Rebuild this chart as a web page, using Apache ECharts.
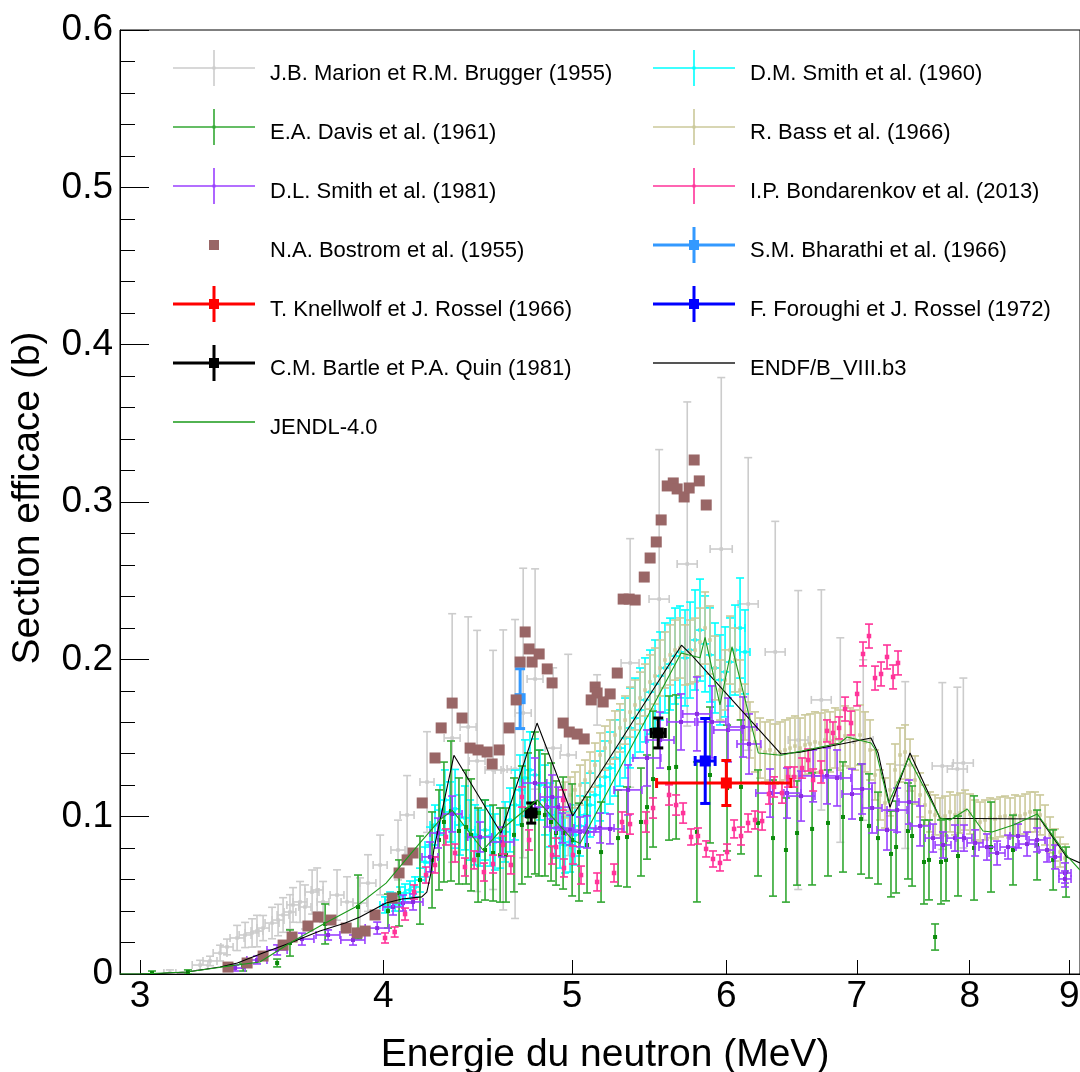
<!DOCTYPE html>
<html><head><meta charset="utf-8">
<script src="https://cdn.jsdelivr.net/npm/echarts@6/dist/echarts.min.js"></script>
<style>html,body{margin:0;padding:0;background:#fff}#c{width:1080px;height:1072px}</style>
</head><body><div id="c"></div>
<script>
// ---- axis ticks ----
const xTicks = [3, 4, 5, 6, 7, 8, 9];
// ---- data: [E (MeV), sigma (b), dE, dsigma] ----
const marion = [
[3.108,0.0006,0.022,0.002],[3.221,0.0057,0.030,0.003],[3.259,0.0083,0.027,0.003],[3.298,0.0133,0.027,0.005],
[3.325,0.0172,0.024,0.005],[3.365,0.0229,0.028,0.008],[3.397,0.0248,0.024,0.008],[3.425,0.0261,0.028,0.009],
[3.445,0.0273,0.024,0.010],[3.470,0.0292,0.025,0.008],[3.507,0.0324,0.029,0.010],[3.532,0.0343,0.025,0.010],
[3.553,0.0375,0.025,0.011],[3.582,0.0394,0.025,0.011],[3.595,0.0439,0.026,0.011],[3.625,0.0458,0.030,0.013],
[3.646,0.0426,0.026,0.014],[3.677,0.0521,0.030,0.014],[3.699,0.0534,0.026,0.014],[3.725,0.0458,0.026,0.013],
[3.787,0.0502,0.031,0.016],[3.832,0.0458,0.027,0.016],[3.891,0.0451,0.032,0.016],[3.928,0.0578,0.037,0.018],
[3.985,0.0693,0.033,0.019],[4.070,0.0788,0.034,0.019],[4.114,0.1011,0.034,0.025],[4.212,0.1220,0.035,0.032],
[4.339,0.150,0.041,0.079],[4.422,0.157,0.042,0.070],[4.469,0.1354,0.042,0.083],[4.554,0.1297,0.043,0.076],
[4.609,0.1297,0.044,0.089],[4.674,0.1303,0.044,0.095],[4.719,0.1659,0.045,0.092],[4.786,0.1875,0.045,0.070],
[4.889,0.1436,0.046,0.051],[4.977,0.1392,0.047,0.064],[5.150,0.1742,0.049,0.016],[5.355,0.1977,0.057,0.079],
[5.542,0.2383,0.066,0.095],[5.729,0.2606,0.068,0.103],[5.964,0.2701,0.078,0.109],[6.157,0.2352,0.073,0.093],
[6.357,0.2047,0.075,0.083],[6.532,0.1487,0.077,0.095],[6.713,0.1742,0.079,0.070],[6.865,0.1487,0.081,0.065],
[7.054,0.1487,0.083,0.051],[7.413,0.1328,0.088,0.053],[7.745,0.1322,0.092,0.053],[7.884,0.1303,0.093,0.052],
[7.940,0.1341,0.094,0.054]
];
const dmSmith = [
[4.008,0.0439,0.024,0.0051],[4.032,0.0470,0.024,0.0051],[4.056,0.0451,0.024,0.0051],[4.080,0.0496,0.024,0.0057],
[4.104,0.0515,0.024,0.0057],[4.128,0.0534,0.024,0.0057],[4.153,0.0553,0.025,0.0064],[4.177,0.0597,0.025,0.0076],
[4.202,0.0712,0.025,0.0095],[4.227,0.0820,0.025,0.0114],[4.252,0.0947,0.025,0.0127],[4.277,0.1042,0.025,0.0159],
[4.302,0.1106,0.025,0.0191],[4.328,0.1030,0.026,0.0191],[4.354,0.1050,0.026,0.0250],[4.379,0.0947,0.026,0.0191],
[4.405,0.0992,0.026,0.0203],[4.432,0.0915,0.026,0.0191],[4.458,0.0884,0.026,0.0191],[4.484,0.0864,0.027,0.0178],
[4.511,0.0915,0.027,0.0191],[4.538,0.0877,0.027,0.0191],[4.564,0.0839,0.027,0.0178],[4.592,0.0864,0.027,0.0191],
[4.619,0.0903,0.027,0.0191],[4.646,0.0979,0.027,0.0203],[4.674,0.1074,0.028,0.0222],[4.701,0.1170,0.028,0.0222],
[4.729,0.1246,0.028,0.0242],[4.757,0.1297,0.028,0.0242],[4.785,0.1265,0.028,0.0229],[4.814,0.1201,0.028,0.0222],
[4.842,0.1106,0.029,0.0222],[4.871,0.1011,0.029,0.0203],[4.900,0.0928,0.029,0.0191],[4.929,0.0864,0.029,0.0191],
[4.958,0.0820,0.029,0.0178],[4.988,0.0839,0.029,0.0191],[5.017,0.0884,0.030,0.0191],[5.047,0.0941,0.030,0.0191],
[5.077,0.1011,0.030,0.0203],[5.107,0.1074,0.030,0.0203],[5.137,0.1138,0.030,0.0216],[5.168,0.1195,0.031,0.0222],
[5.198,0.1252,0.031,0.0229],[5.229,0.1309,0.031,0.0229],[5.260,0.1373,0.031,0.0242],[5.291,0.1436,0.031,0.0242],
[5.323,0.1500,0.031,0.0254],[5.354,0.1564,0.032,0.0254],[5.386,0.1627,0.032,0.0254],[5.418,0.1678,0.032,0.0267],
[5.450,0.1742,0.032,0.0267],[5.482,0.1792,0.032,0.0267],[5.515,0.1843,0.033,0.0280],[5.548,0.1894,0.033,0.0280],
[5.580,0.1945,0.033,0.0286],[5.614,0.1970,0.033,0.0292],[5.647,0.2021,0.033,0.0305],[5.680,0.2047,0.034,0.0292],
[5.714,0.2009,0.034,0.0305],[5.748,0.2059,0.034,0.0305],[5.782,0.2123,0.034,0.0318],[5.816,0.2186,0.034,0.0324],
[5.851,0.2098,0.035,0.0305],[5.885,0.2028,0.035,0.0299],[5.920,0.1945,0.035,0.0286],[5.955,0.1869,0.035,0.0286],
[5.991,0.1920,0.035,0.0286],[6.026,0.1983,0.036,0.0280],[6.062,0.2059,0.036,0.0286],[6.098,0.2199,0.036,0.0318],
[6.134,0.2047,0.036,0.0267]
];
const bass = [
[4.958,0.1106,0,0.0114],[4.988,0.1138,0,0.0114],[5.017,0.1170,0,0.0114],[5.047,0.1201,0,0.0127],
[5.077,0.1233,0,0.0127],[5.107,0.1284,0,0.0127],[5.137,0.1328,0,0.0140],[5.168,0.1392,0,0.0140],
[5.198,0.1436,0,0.0140],[5.229,0.1475,0,0.0140],[5.260,0.1519,0,0.0153],[5.291,0.1564,0,0.0153],
[5.323,0.1614,0,0.0153],[5.354,0.1665,0,0.0159],[5.386,0.1710,0,0.0159],[5.418,0.1754,0,0.0165],
[5.450,0.1805,0,0.0165],[5.482,0.1856,0,0.0172],[5.515,0.1894,0,0.0178],[5.548,0.1945,0,0.0178],
[5.580,0.1996,0,0.0178],[5.614,0.2028,0,0.0191],[5.647,0.2059,0,0.0191],[5.680,0.2072,0,0.0191],
[5.714,0.2028,0,0.0191],[5.748,0.2047,0,0.0203],[5.782,0.2059,0,0.0203],[5.816,0.2110,0,0.0216],
[5.851,0.2199,0,0.0229],[5.885,0.2123,0,0.0216],[5.920,0.1945,0,0.0203],[5.955,0.1805,0,0.0191],
[5.991,0.1869,0,0.0191],[6.026,0.2059,0,0.0216],[6.062,0.1996,0,0.0203],[6.098,0.1805,0,0.0191],
[6.134,0.1665,0,0.0178],[6.170,0.1551,0,0.0178],[6.207,0.1475,0,0.0191],[6.244,0.1436,0,0.0191],
[6.281,0.1411,0,0.0191],[6.318,0.1424,0,0.0191],[6.355,0.1398,0,0.0191],[6.393,0.1411,0,0.0191],
[6.431,0.1424,0,0.0191],[6.469,0.1436,0,0.0191],[6.507,0.1449,0,0.0191],[6.546,0.1436,0,0.0191],
[6.585,0.1456,0,0.0191],[6.624,0.1462,0,0.0191],[6.663,0.1475,0,0.0191],[6.703,0.1468,0,0.0191],
[6.742,0.1487,0,0.0191],[6.782,0.1475,0,0.0191],[6.823,0.1500,0,0.0191],[6.863,0.1487,0,0.0191],
[6.904,0.1513,0,0.0191],[6.945,0.1500,0,0.0191],[6.986,0.1487,0,0.0191],[7.027,0.1519,0,0.0191],
[7.069,0.1475,0,0.0191],[7.111,0.1424,0,0.0191],[7.153,0.1265,0,0.0159],[7.195,0.1138,0,0.0159],
[7.238,0.1087,0,0.0159],[7.281,0.1170,0,0.0165],[7.324,0.1297,0,0.0165],[7.367,0.1392,0,0.0172],
[7.411,0.1411,0,0.0172],[7.455,0.1328,0,0.0165],[7.499,0.1233,0,0.0153],[7.544,0.1138,0,0.0140],
[7.588,0.1074,0,0.0127],[7.633,0.1030,0,0.0127],[7.679,0.1011,0,0.0127],[7.724,0.0992,0,0.0127],
[7.770,0.1004,0,0.0127],[7.816,0.1030,0,0.0127],[7.862,0.1011,0,0.0127],[7.909,0.1023,0,0.0127],
[7.956,0.1042,0,0.0127],[8.003,0.1017,0,0.0127],[8.051,0.0979,0,0.0127],[8.098,0.0966,0,0.0127],
[8.146,0.0979,0,0.0127],[8.195,0.0992,0,0.0127],[8.243,0.0985,0,0.0127],[8.292,0.0998,0,0.0127],
[8.341,0.1004,0,0.0127],[8.391,0.0992,0,0.0127],[8.440,0.1011,0,0.0127],[8.490,0.1004,0,0.0127],
[8.541,0.1017,0,0.0127],[8.591,0.1030,0,0.0127],[8.642,0.1030,0,0.0127],[8.694,0.1011,0,0.0127],
[8.745,0.0947,0,0.0127],[8.797,0.0884,0,0.0114],[8.849,0.0820,0,0.0102],[8.902,0.0775,0,0.0095],
[8.954,0.0737,0,0.0089]
];
const davis = [
[3.043,0.0006,0,0.0013],[3.175,0.0013,0,0.0013],[3.389,0.0044,0,0.0025],[3.528,0.0070,0,0.0025],
[3.582,0.0197,0,0.0083],[3.734,0.0318,0,0.0127],[3.882,0.0426,0,0.0203],[4.022,0.0400,0,0.0108],
[4.075,0.0515,0,0.0210],[4.177,0.0597,0,0.0280],[4.237,0.0725,0,0.0305],[4.272,0.0852,0,0.0318],
[4.297,0.0966,0,0.0381],[4.333,0.1036,0,0.0445],[4.374,0.0909,0,0.0337],[4.411,0.0934,0,0.0362],
[4.437,0.0884,0,0.0356],[4.474,0.0756,0,0.0299],[4.511,0.0788,0,0.0318],[4.554,0.0769,0,0.0305],
[4.592,0.0756,0,0.0299],[4.624,0.0756,0,0.0299],[4.668,0.0884,0,0.0362],[4.712,0.0947,0,0.0375],
[4.746,0.1011,0,0.0394],[4.785,0.1087,0,0.0451],[4.808,0.1023,0,0.0400],[4.842,0.1011,0,0.0388],
[4.877,0.0966,0,0.0375],[4.906,0.0896,0,0.0331],[4.947,0.0896,0,0.0356],[5.000,0.0852,0,0.0356],
[5.041,0.0775,0,0.0311],[5.089,0.0820,0,0.0305],[5.174,0.0775,0,0.0318],[5.279,0.0864,0,0.0305],
[5.335,0.0871,0,0.0318],[5.424,0.0966,0,0.0343],[5.463,0.1061,0,0.0331],[5.502,0.1239,0,0.0432],
[5.607,0.1309,0,0.0458],[5.654,0.1316,0,0.0458],[5.795,0.0903,0,0.0445],[5.885,0.1265,0,0.0432],
[6.005,0.1182,0,0.0400],[6.105,0.1189,0,0.0426],[6.229,0.0960,0,0.0337],[6.340,0.0864,0,0.0369],
[6.438,0.0788,0,0.0331],[6.523,0.0896,0,0.0331],[6.640,0.0922,0,0.0356],[6.766,0.0960,0,0.0337],
[6.887,0.0998,0,0.0350],[7.036,0.0985,0,0.0350],[7.102,0.0941,0,0.0331],[7.178,0.0864,0,0.0292],
[7.289,0.0763,0,0.0273],[7.333,0.0807,0,0.0292],[7.437,0.0909,0,0.0305],[7.473,0.0877,0,0.0318],
[7.579,0.0712,0,0.0267],[7.624,0.0725,0,0.0254],[7.679,0.0235,0,0.0083],[7.733,0.0712,0,0.0267],
[7.779,0.0725,0,0.0260],[7.890,0.0750,0,0.0254],[8.041,0.0801,0,0.0331],[8.204,0.0807,0,0.0286],
[8.420,0.0788,0,0.0222],[8.663,0.0820,0,0.0222],[8.829,0.0725,0,0.0191],[8.965,0.0648,0,0.0159]
];
const dlSmith = [
[3.357,0.0038,0.040,0.0019],[3.445,0.0089,0.041,0.0025],[3.528,0.0153,0.042,0.0032],[3.633,0.0222,0.052,0.0038],
[3.747,0.0248,0.053,0.0032],[3.859,0.0216,0.055,0.0032],[3.971,0.0292,0.056,0.0038],[4.046,0.0426,0.048,0.0051],
[4.094,0.0451,0.048,0.0051],[4.143,0.0458,0.049,0.0051],[4.227,0.0744,0.040,0.0095],[4.267,0.0896,0.040,0.0095],
[4.339,0.1017,0.051,0.0114],[4.484,0.0871,0.064,0.0095],[4.603,0.0839,0.065,0.0095],[4.785,0.1214,0.068,0.0159],
[4.855,0.1061,0.069,0.0127],[4.883,0.1125,0.069,0.0140],[4.918,0.1061,0.070,0.0127],[4.941,0.0928,0.070,0.0095],
[4.988,0.0915,0.083,0.0095],[5.047,0.0903,0.084,0.0095],[5.089,0.0903,0.084,0.0102],[5.168,0.0928,0.086,0.0095],
[5.229,0.0922,0.087,0.0095],[5.342,0.1170,0.088,0.0159],[5.463,0.1373,0.090,0.0178],[5.548,0.1487,0.092,0.0178],
[5.687,0.1602,0.094,0.0178],[5.795,0.1653,0.096,0.0235],[5.899,0.1602,0.098,0.0229],[6.012,0.1551,0.100,0.0203],
[6.120,0.1570,0.101,0.0191],[6.163,0.1462,0.087,0.0191],[6.318,0.1150,0.105,0.0153],[6.446,0.1150,0.107,0.0159],
[6.554,0.1131,0.109,0.0159],[6.648,0.1259,0.110,0.0165],[6.758,0.1259,0.112,0.0178],[6.839,0.1246,0.113,0.0178],
[6.961,0.1144,0.082,0.0159],[7.044,0.1176,0.083,0.0159],[7.128,0.1055,0.084,0.0159],[7.255,0.0915,0.086,0.0127],
[7.342,0.1042,0.087,0.0140],[7.446,0.1093,0.088,0.0140],[7.544,0.0941,0.089,0.0127],[7.661,0.0864,0.072,0.0089],
[7.752,0.0820,0.073,0.0083],[7.862,0.0864,0.074,0.0083],[7.946,0.0864,0.075,0.0083],[8.051,0.0833,0.076,0.0083],
[8.165,0.0807,0.077,0.0083],[8.263,0.0769,0.078,0.0076],[8.371,0.0807,0.079,0.0076],[8.470,0.0877,0.080,0.0076],
[8.561,0.0826,0.081,0.0076],[8.663,0.0852,0.082,0.0076],[8.766,0.0788,0.083,0.0076],[8.849,0.0744,0.063,0.0076],
[8.954,0.0642,0.064,0.0064],[8.954,0.0604,0.064,0.0051]
];
const bondarenkov = [
[4.008,0.0229,0,0.0032],[4.054,0.0267,0,0.0032],[4.104,0.0381,0,0.0038],[4.148,0.0521,0,0.0045],
[4.207,0.0629,0,0.0051],[4.252,0.0693,0,0.0051],[4.307,0.0871,0,0.0051],[4.354,0.0769,0,0.0057],
[4.405,0.0680,0,0.0057],[4.453,0.0725,0,0.0057],[4.505,0.0648,0,0.0057],[4.554,0.0699,0,0.0057],
[4.608,0.0820,0,0.0057],[4.651,0.0693,0,0.0057],[4.712,0.1125,0,0.0064],[4.752,0.0852,0,0.0064],
[4.883,0.0756,0,0.0057],[4.906,0.0807,0,0.0057],[4.947,0.1106,0,0.0064],[4.952,0.0674,0,0.0057],
[5.005,0.0756,0,0.0057],[5.053,0.0629,0,0.0057],[5.150,0.0585,0,0.0057],[5.254,0.0642,0,0.0057],
[5.304,0.0966,0,0.0064],[5.354,0.0953,0,0.0064],[5.456,0.0966,0,0.0064],[5.502,0.1055,0,0.0064],
[5.607,0.1138,0,0.0064],[5.654,0.1074,0,0.0064],[5.701,0.1023,0,0.0064],[5.755,0.0871,0,0.0051],
[5.802,0.0877,0,0.0051],[5.858,0.0795,0,0.0051],[5.906,0.0731,0,0.0051],[5.955,0.0706,0,0.0051],
[6.005,0.0775,0,0.0051],[6.055,0.0922,0,0.0057],[6.105,0.0877,0,0.0057],[6.156,0.0960,0,0.0057],
[6.207,0.0979,0,0.0057],[6.259,0.0972,0,0.0057],[6.310,0.1144,0,0.0064],[6.348,0.1189,0,0.0064],
[6.408,0.1150,0,0.0064],[6.454,0.1252,0,0.0064],[6.500,0.1252,0,0.0064],[6.562,0.1309,0,0.0064],
[6.609,0.1360,0,0.0070],[6.648,0.1233,0,0.0070],[6.711,0.1284,0,0.0070],[6.758,0.1545,0,0.0070],
[6.806,0.1532,0,0.0070],[6.855,0.1564,0,0.0070],[6.904,0.1684,0,0.0076],[6.953,0.1595,0,0.0076],
[7.003,0.1780,0,0.0076],[7.052,0.2034,0,0.0076],[7.102,0.2148,0,0.0076],[7.153,0.1881,0,0.0076],
[7.204,0.1907,0,0.0076],[7.255,0.2015,0,0.0076],[7.307,0.1888,0,0.0076],[7.350,0.1977,0,0.0076]
];
// [E, sigma]
const bostrom = [
[3.329,0.0044],[3.405,0.0070],[3.470,0.0114],[3.553,0.0184],[3.591,0.0235],[3.659,0.0305],[3.703,0.0362],
[3.760,0.0343],[3.828,0.0292],[3.878,0.0261],[3.915,0.0273],[3.961,0.0375],[4.042,0.0483],[4.075,0.0642],
[4.114,0.0725],[4.143,0.0769],[4.188,0.1087],[4.252,0.1373],[4.283,0.1564],[4.339,0.1722],[4.390,0.1627],
[4.432,0.1436],[4.474,0.1424],[4.522,0.1411],[4.549,0.1335],[4.587,0.1424],[4.641,0.1564],[4.680,0.1742],
[4.702,0.1983],[4.730,0.2174],[4.752,0.2066],[4.769,0.1983],[4.809,0.2034],[4.855,0.1939],[4.883,0.1850],
[4.947,0.1595],[4.983,0.1538],[5.030,0.1525],[5.072,0.1494],[5.114,0.1742],[5.138,0.1824],[5.150,0.1786],
[5.187,0.1729],[5.230,0.1780],[5.274,0.1913],[5.311,0.2383],[5.349,0.2383],[5.387,0.2377],[5.445,0.2523],
[5.483,0.2644],[5.523,0.2746],[5.555,0.2886],[5.595,0.3102],[5.635,0.3121],[5.661,0.3083],[5.708,0.3032],
[5.742,0.3089],[5.776,0.3267],[5.811,0.3134],[5.859,0.2981]
];
const bharathi = [[4.702,0.175,0,0.019]];
const knellwolf = [[6.000,0.1214,0.475,0.0143]];
const foroughi = [[5.852,0.1354,0.069,0.027]];
const bartle = [[4.764,0.1023,0.028,0.0064],[5.536,0.1532,0.046,0.0095]];
const endf = [
[3.000,0],[3.043,0],[3.171,0.0013],[3.298,0.0045],[3.366,0.0070],[3.469,0.0133],[3.582,0.0197],[3.711,0.0273],
[3.824,0.0324],[3.891,0.0362],[4.013,0.0451],[4.089,0.0477],[4.186,0.0490],[4.211,0.0520],[4.231,0.0640],
[4.246,0.0790],[4.348,0.1390],[4.597,0.0896],[4.797,0.1595],[5.003,0.1004],[5.690,0.2090],[5.757,0.2028],
[6.401,0.1398],[6.546,0.1410],[6.863,0.1460],[7.119,0.1500],[7.179,0.1405],[7.280,0.1060],[7.455,0.1405],
[7.724,0.0990],[8.694,0.0985],[8.971,0.0744],[9.114,0.0706]
];
const jendl = [
[2.930,0],[3.000,0],[3.171,0.0013],[3.308,0.0045],[3.457,0.0076],[3.582,0.0197],[3.727,0.0318],[3.870,0.0426],
[4.013,0.0578],[4.177,0.0833],[4.277,0.0980],[4.340,0.1040],[4.500,0.0788],[4.597,0.0915],[4.797,0.1106],
[5.003,0.0852],[5.047,0.0830],[5.688,0.2040],[5.816,0.2010],[5.851,0.2140],[5.955,0.1710],[6.040,0.2080],
[6.231,0.1405],[6.401,0.1390],[6.863,0.1468],[6.920,0.1506],[7.119,0.1468],[7.158,0.1424],[7.268,0.1087],
[7.443,0.1373],[7.724,0.0992],[7.816,0.0979],[7.977,0.1049],[8.127,0.0909],[8.214,0.0903],[8.424,0.0947],
[8.665,0.1017],[8.985,0.0744],[9.114,0.0661]
];

const N = {
  marion: 'J.B. Marion et R.M. Brugger (1955)', dms: 'D.M. Smith et al. (1960)',
  davis: 'E.A. Davis et al. (1961)', bass: 'R. Bass et al. (1966)',
  dls: 'D.L. Smith et al. (1981)', bond: 'I.P. Bondarenkov et al. (2013)',
  bost: 'N.A. Bostrom et al. (1955)', bhar: 'S.M. Bharathi et al. (1966)',
  knell: 'T. Knellwolf et J. Rossel (1966)', foro: 'F. Foroughi et J. Rossel (1972)',
  bartle: 'C.M. Bartle et P.A. Quin (1981)', endf: 'ENDF/B_VIII.b3', jendl: 'JENDL-4.0'
};
// icon box 92x48: cross drawn in the upper 36 px so the text sits a little lower, as in ROOT
const ICON_THIN = 'path://M0 0L0 0Z M0 17.2H82V18.8H0Z M40.2 0H41.8V36H40.2Z M39.5 16.5H42.5V19.5H39.5Z M92 48L92 48Z';
const ICON_THICK = 'path://M0 0L0 0Z M0 16.5H82V19.5H0Z M39.5 0H42.5V36H39.5Z M36 13H46V23H36Z M92 48L92 48Z';
const ICON_SQ = 'path://M0 0L0 0Z M36 13H46V23H36Z M92 48L92 48Z';
const ICON_LINE2 = 'path://M0 0L0 0Z M0 17H82V19H0Z M92 48L92 48Z';
const ICON_LINE1 = 'path://M0 0L0 0Z M0 17.3H82V18.7H0Z M92 48L92 48Z';

function errSeries(name, data, o) {
  return {
    name, type: 'custom', data, silent: true, clip: true,
    dimensions: ['E', 's', 'dE', 'ds'], encode: { x: 0, y: 1 },
    itemStyle: { color: o.color },
    renderItem(params, api) {
      const E = api.value(0), s = api.value(1), dE = api.value(2), ds = api.value(3);
      const c = api.coord([E, s]);
      const st = { stroke: o.color, lineWidth: o.lw };
      const k = [];
      const cap = o.cap;
      if (ds > 0) {
        const t = api.coord([E, s + ds])[1], b = api.coord([E, Math.max(0, s - ds)])[1];
        k.push({ type: 'line', shape: { x1: c[0], y1: t, x2: c[0], y2: b }, style: st });
        k.push({ type: 'line', shape: { x1: c[0] - cap, y1: t, x2: c[0] + cap, y2: t }, style: st });
        k.push({ type: 'line', shape: { x1: c[0] - cap, y1: b, x2: c[0] + cap, y2: b }, style: st });
      }
      if (dE > 0) {
        const l = api.coord([E - dE, s])[0], r = api.coord([E + dE, s])[0];
        k.push({ type: 'line', shape: { x1: l, y1: c[1], x2: r, y2: c[1] }, style: st });
        k.push({ type: 'line', shape: { x1: l, y1: c[1] - cap, x2: l, y2: c[1] + cap }, style: st });
        k.push({ type: 'line', shape: { x1: r, y1: c[1] - cap, x2: r, y2: c[1] + cap }, style: st });
      }
      const m = o.ms;
      k.push({ type: 'rect', shape: { x: c[0] - m / 2, y: c[1] - m / 2, width: m, height: m }, style: { fill: o.mcolor || o.color } });
      return { type: 'group', children: k };
    }
  };
}

const FONT = '"Liberation Sans", Arial, Helvetica, sans-serif';
const chart = echarts.init(document.getElementById('c'), null, { renderer: 'canvas' });
const legendText = { fontSize: 22, color: '#000', fontFamily: FONT };
const legendBase = { orient: 'vertical', top: 50, padding: 0, itemWidth: 92, itemHeight: 48, itemGap: 11, selectedMode: false, textStyle: legendText };
chart.setOption({
  animation: false,
  backgroundColor: '#fff',
  textStyle: { fontFamily: FONT },
  grid: { left: 120, right: 0, top: 30, bottom: 98, outerBoundsMode: 'none', containLabel: false,
          show: true, borderColor: '#000', borderWidth: 1, backgroundColor: 'transparent' },
  legend: [
    Object.assign({}, legendBase, { left: 173,
      data: [
        { name: N.marion, icon: ICON_THIN }, { name: N.davis, icon: ICON_THIN }, { name: N.dls, icon: ICON_THIN },
        { name: N.bost, icon: ICON_SQ }, { name: N.knell, icon: ICON_THICK }, { name: N.bartle, icon: ICON_THICK },
        { name: N.jendl, icon: ICON_LINE1 }
      ] }),
    Object.assign({}, legendBase, { left: 653,
      data: [
        { name: N.dms, icon: ICON_THIN }, { name: N.bass, icon: ICON_THIN }, { name: N.bond, icon: ICON_THIN },
        { name: N.bhar, icon: ICON_THICK }, { name: N.foro, icon: ICON_THICK },
        { name: N.endf, icon: ICON_LINE2, itemStyle: { color: '#555' } }
      ] })
  ],
  xAxis: {
    type: 'log', logBase: 10, min: 2.93, max: 9.114,
    name: 'Energie du neutron (MeV)', nameLocation: 'middle', nameGap: 62,
    nameTextStyle: { fontSize: 39, color: '#000', padding: [0, 0, 0, 10] },
    axisLine: { show: true, lineStyle: { color: '#000', width: 1 } },
    axisTick: { show: true, inside: true, length: 14, customValues: xTicks, lineStyle: { color: '#000' } },
    minorTick: { show: false },
    axisLabel: { customValues: xTicks, fontSize: 37, color: '#000', margin: 4, formatter: v => String(Math.round(v)) },
    splitLine: { show: false }
  },
  yAxis: {
    type: 'value', min: 0, max: 0.6, interval: 0.1,
    name: 'Section efficace (b)', nameLocation: 'middle', nameGap: 72,
    nameTextStyle: { fontSize: 39, color: '#000', padding: [0, 0, 0, 8] },
    axisLine: { show: true, lineStyle: { color: '#000', width: 1 } },
    axisTick: { show: true, inside: true, length: 29, lineStyle: { color: '#000' } },
    minorTick: { show: true, splitNumber: 5, length: 15, lineStyle: { color: '#000' } },
    axisLabel: { fontSize: 37, color: '#000', margin: 7, formatter: v => v === 0 ? '0' : v.toFixed(1) },
    splitLine: { show: false }
  },
  series: [
    errSeries(N.marion, marion, { color: '#cccccc', lw: 1.6, cap: 4, ms: 3.5 }),
    errSeries(N.dms, dmSmith, { color: '#00ffff', lw: 1.6, cap: 4, ms: 3.5 }),
    errSeries(N.bass, bass, { color: '#cbc99a', lw: 1.6, cap: 4, ms: 3.5 }),
    errSeries(N.davis, davis, { color: '#33a833', mcolor: '#0a8a0a', lw: 1.6, cap: 4, ms: 4 }),
    errSeries(N.dls, dlSmith, { color: '#9a40ff', mcolor: '#8a2be2', lw: 1.6, cap: 4, ms: 4 }),
    errSeries(N.bond, bondarenkov, { color: '#ff3399', lw: 1.6, cap: 4, ms: 4.5 }),
    { name: N.bost, type: 'scatter', data: bostrom, symbol: 'rect', symbolSize: 11, itemStyle: { color: '#996666', opacity: 1 }, silent: true },
    errSeries(N.bhar, bharathi, { color: '#3399ff', lw: 3, cap: 5, ms: 11 }),
    errSeries(N.knell, knellwolf, { color: '#ff0000', lw: 3, cap: 5, ms: 11 }),
    errSeries(N.foro, foroughi, { color: '#0000ff', lw: 3, cap: 5, ms: 11 }),
    errSeries(N.bartle, bartle, { color: '#000000', lw: 3, cap: 5, ms: 11 }),
    { name: N.endf, type: 'line', data: endf, showSymbol: false, symbol: 'none', silent: true, lineStyle: { color: '#000', width: 1.1 }, itemStyle: { color: '#000' } },
    { name: N.jendl, type: 'line', data: jendl, showSymbol: false, symbol: 'none', silent: true, lineStyle: { color: '#1a9a1a', width: 1.1 }, itemStyle: { color: '#1a9a1a' } }
  ]
});
</script>
</body></html>
